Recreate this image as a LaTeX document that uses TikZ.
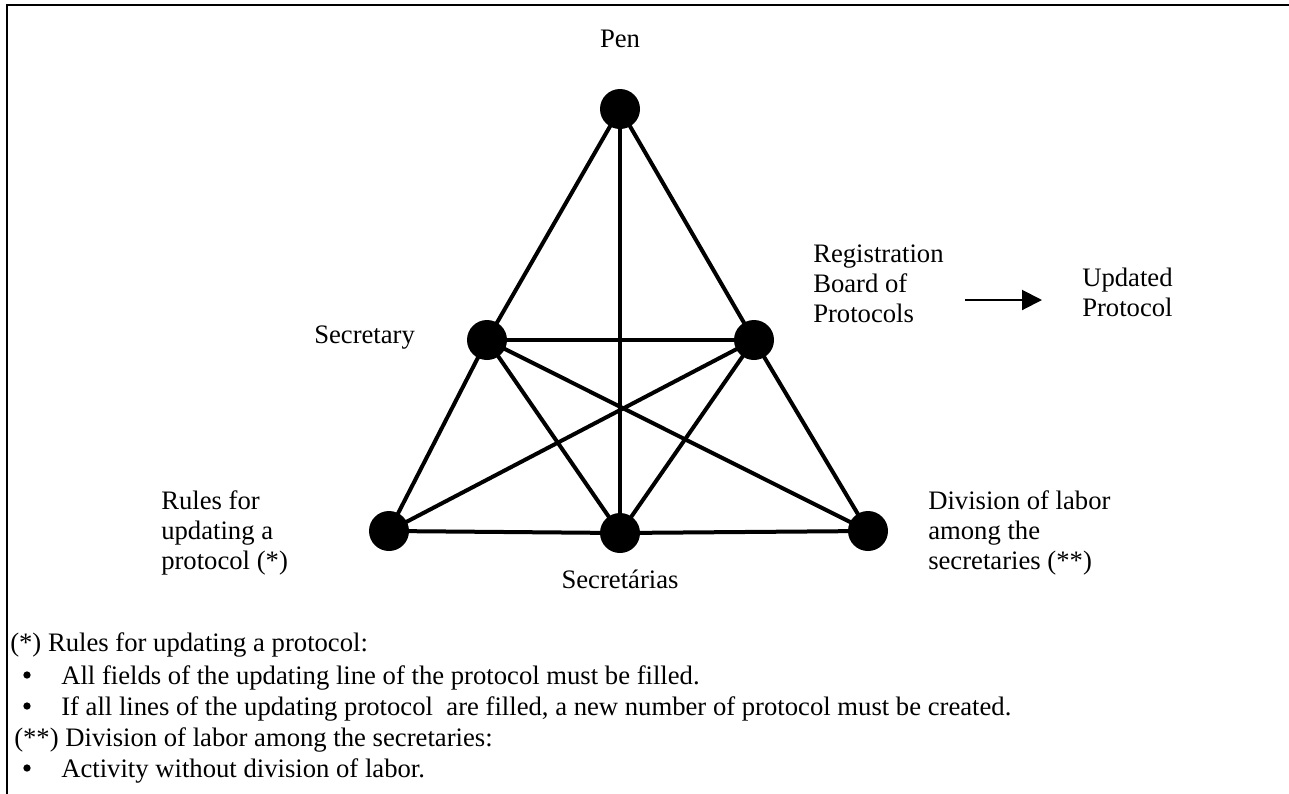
\documentclass[tikz,border=0pt]{standalone}
\usepackage{fontspec}
\setmainfont{Liberation Serif}
\usetikzlibrary{arrows.meta}
\newcommand{\mylines}[1]{\begin{tabular}[t]{@{}l@{}}#1\end{tabular}}
\begin{document}
\begin{tikzpicture}[x=0.75pt,y=-0.75pt,
  dot/.style={circle,fill=black,inner sep=0pt,minimum size=30pt},
  bul/.style={circle,fill=black,inner sep=0pt,minimum size=5.5pt},
  edge/.style={line width=3pt},
  lbl/.style={inner sep=0pt,anchor=base west,font=\fontsize{20pt}{22.5pt}\selectfont},
  framel/.style={line width=1.5pt},
  arr/.style={line width=1.5pt,-{Triangle[length=15pt,width=15pt]}}]
\useasboundingbox (0,0) rectangle (1289,793);
\fill[white] (0,0) rectangle (1289,793);
% frame
\coordinate (f1) at (7,800);
\coordinate (f0) at (7,5);
\coordinate (f2) at (1300,5);
\draw[framel] (f1) -- (f0) -- (f2);
% nodes
\node[dot] (pen) at (620,109) {};
\node[dot] (sec) at (487,340) {};
\node[dot] (reg) at (754,340) {};
\node[dot] (rules) at (389,531) {};
\node[dot] (secs) at (620,533) {};
\node[dot] (div) at (868,531) {};
% edges
\draw[edge] (pen.center) -- (sec.center);
\draw[edge] (pen.center) -- (reg.center);
\draw[edge] (pen.center) -- (secs.center);
\draw[edge] (sec.center) -- (reg.center);
\draw[edge] (sec.center) -- (rules.center);
\draw[edge] (sec.center) -- (secs.center);
\draw[edge] (sec.center) -- (div.center);
\draw[edge] (reg.center) -- (rules.center);
\draw[edge] (reg.center) -- (secs.center);
\draw[edge] (reg.center) -- (div.center);
\draw[edge] (rules.center) -- (secs.center);
\draw[edge] (secs.center) -- (div.center);
% labels
\node[lbl,anchor=base] (penl) at (620,47) {Pen};
\node[lbl] (secl) at (314,343) {Secretary};
\node[lbl] (regl) at (813,262) {\mylines{Registration\\Board of\\Protocols}};
\node[lbl] (updl) at (1082,286) {\mylines{Updated\\Protocol}};
\node[lbl] (rulesl) at (161,509) {\mylines{Rules for\\updating a\\protocol (*)}};
\node[lbl] (divl) at (928,509) {\mylines{Division of labor\\among the\\secretaries (**)}};
\node[lbl,anchor=base] (secsl) at (620,588) {Secretárias};
% arrow
\coordinate (a1) at (965,300);
\coordinate (a2) at (1042,300);
\draw[arr] (a1) -- (a2);
% notes
\node[lbl] (n1) at (10,651) {(*) Rules for updating a protocol:};
\node[bul] (b1) at (27,675) {};
\node[lbl] (t1) at (61,684) {All fields of the updating line of the protocol must be filled.};
\node[bul] (b2) at (27,706) {};
\node[lbl] (t2) at (61,715) {If all lines of the updating protocol~ are filled, a new number of protocol must be created.};
\node[lbl] (n2) at (14,746) {(**) Division of labor among the secretaries:};
\node[bul] (b3) at (27,768) {};
\node[lbl] (t3) at (61,777) {Activity without division of labor.};
\end{tikzpicture}
\end{document}
